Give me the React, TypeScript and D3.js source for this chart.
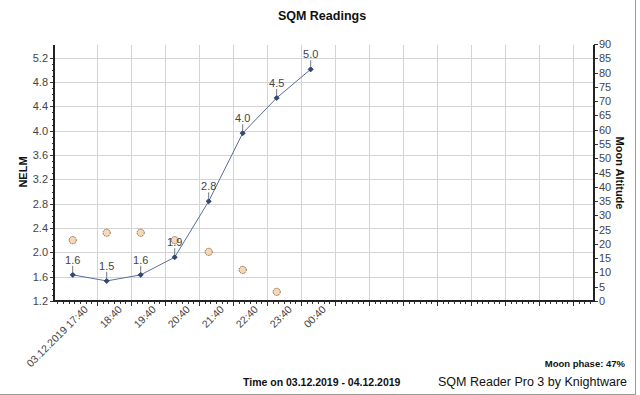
import { useEffect, useRef } from 'react';
import * as d3 from 'd3';

// readings (one per hour) and moon altitude at the same times
const readingTimes = [
  '2019-12-03T17:17', '2019-12-03T18:17', '2019-12-03T19:17', '2019-12-03T20:17',
  '2019-12-03T21:17', '2019-12-03T22:17', '2019-12-03T23:17', '2019-12-04T00:17',
];
const nelm = [1.63, 1.53, 1.63, 1.92, 2.84, 3.96, 4.54, 5.01];
const moonAlt = [21.3, 23.9, 23.9, 21.3, 17.2, 10.9, 3.2, null];

const timeDomain = ['2019-12-03T16:44', '2019-12-04T08:37'];
const labelledTicks = [
  '2019-12-03T17:40', '2019-12-03T18:40', '2019-12-03T19:40', '2019-12-03T20:40',
  '2019-12-03T21:40', '2019-12-03T22:40', '2019-12-03T23:40', '2019-12-04T00:40',
];
const nelmTicks = [1.2, 1.6, 2.0, 2.4, 2.8, 3.2, 3.6, 4.0, 4.4, 4.8, 5.2];
const moonTicks = d3.range(0, 91, 5);

const parse = d3.timeParse('%Y-%m-%dT%H:%M');

const App = () => {
  const svgRef = useRef(null);

  useEffect(() => {
    const W = 640, H = 395;
    const left = 54, right = 594, top = 45, bottom = 301;
    const font = '"Liberation Sans", Arial, sans-serif';
    const svg = d3.select(svgRef.current);
    svg.selectAll('*').remove();
    svg.attr('width', W).attr('height', H).style('font-family', font);

    svg.append('rect').attr('width', W).attr('height', H).attr('fill', '#fff');

    const x = d3.scaleTime()
      .domain(timeDomain.map(d => parse(d)))
      .range([left, right]);
    const y = d3.scaleLinear().domain([1.2, 5.41]).range([bottom, top]);
    const y2 = d3.scaleLinear().domain([0, 90]).range([bottom, top - 1]);

    const firstTick = parse(labelledTicks[0]);
    const hourTicks = d3.timeHour.every(1).range(firstTick, x.domain()[1])
      .map(d => new Date(d.getTime()));
    const minorTicks = d3.timeMinute.every(10).range(x.domain()[0], x.domain()[1]);

    // grid
    const grid = svg.append('g').attr('stroke', '#d4d4d4').attr('stroke-width', 1);
    grid.selectAll('line.v').data(hourTicks).enter().append('line')
      .attr('x1', d => Math.round(x(d)) + 0.5).attr('x2', d => Math.round(x(d)) + 0.5)
      .attr('y1', top).attr('y2', bottom);
    grid.selectAll('line.h').data(nelmTicks.slice(1)).enter().append('line')
      .attr('x1', left).attr('x2', right)
      .attr('y1', d => Math.round(y(d)) + 0.5).attr('y2', d => Math.round(y(d)) + 0.5);

    // bottom axis ticks
    const ax = svg.append('g').attr('stroke', '#333');
    ax.selectAll('line.mi').data(minorTicks).enter().append('line')
      .attr('x1', d => Math.round(x(d)) + 0.5).attr('x2', d => Math.round(x(d)) + 0.5)
      .attr('y1', bottom).attr('y2', bottom + 3);
    ax.selectAll('line.ma').data(hourTicks).enter().append('line')
      .attr('x1', d => Math.round(x(d)) + 0.5).attr('x2', d => Math.round(x(d)) + 0.5)
      .attr('y1', bottom).attr('y2', bottom + 5);

    const fmt = d3.timeFormat('%H:%M');
    svg.selectAll('text.xl').data(labelledTicks.map(d => parse(d))).enter().append('text')
      .attr('transform', d => `translate(${x(d) + 3},${bottom + 9}) rotate(-45)`)
      .attr('text-anchor', 'end')
      .attr('font-size', 10.5)
      .attr('fill', '#444')
      .text((d, i) => (i === 0 ? '03.12.2019 ' : '') + fmt(d));

    // left axis
    const minorY = d3.range(12, 53).map(v => v / 10);
    ax.selectAll('line.ly').data(minorY).enter().append('line')
      .attr('x1', left - 2).attr('x2', left)
      .attr('y1', d => Math.round(y(d)) + 0.5).attr('y2', d => Math.round(y(d)) + 0.5);
    ax.selectAll('line.lY').data(nelmTicks).enter().append('line')
      .attr('x1', left - 4).attr('x2', left)
      .attr('y1', d => Math.round(y(d)) + 0.5).attr('y2', d => Math.round(y(d)) + 0.5);
    svg.selectAll('text.yl').data(nelmTicks).enter().append('text')
      .attr('x', left - 6).attr('y', d => y(d) + 4)
      .attr('text-anchor', 'end').attr('font-size', 11).attr('fill', '#444')
      .text(d => d.toFixed(1));

    // right axis
    ax.selectAll('line.ry').data(moonTicks).enter().append('line')
      .attr('x1', right).attr('x2', right + 4)
      .attr('y1', d => Math.round(y2(d)) + 0.5).attr('y2', d => Math.round(y2(d)) + 0.5);
    svg.selectAll('text.yr').data(moonTicks).enter().append('text')
      .attr('x', right + 5).attr('y', d => y2(d) + 4)
      .attr('font-size', 11).attr('fill', '#444')
      .text(d => d);

    // axis lines
    const axLines = svg.append('g').attr('stroke', '#222').attr('stroke-width', 2);
    axLines.append('line').attr('x1', left).attr('x2', left).attr('y1', top).attr('y2', bottom + 1);
    axLines.append('line').attr('x1', left).attr('x2', right).attr('y1', bottom).attr('y2', bottom);
    axLines.append('line').attr('x1', right).attr('x2', right).attr('y1', top).attr('y2', bottom + 1);

    // NELM series
    const pts = readingTimes.map((t, i) => ({ t: parse(t), v: nelm[i], m: moonAlt[i] }));
    const line = d3.line().x(d => x(d.t)).y(d => y(d.v));
    svg.append('path').datum(pts).attr('d', line)
      .attr('fill', 'none').attr('stroke', '#5a6f9a').attr('stroke-width', 1);

    // moon altitude points
    svg.selectAll('circle.moon').data(pts.filter(d => d.m != null)).enter().append('circle')
      .attr('cx', d => x(d.t)).attr('cy', d => y2(d.m)).attr('r', 3.6)
      .attr('fill', '#f7d8b6').attr('stroke', '#7a5a3a').attr('stroke-width', 0.9)
      .attr('stroke-dasharray', '1.5,0.8');

    // data labels
    svg.selectAll('line.dl').data(pts).enter().append('line')
      .attr('x1', d => x(d.t)).attr('x2', d => x(d.t))
      .attr('y1', d => y(d.v) - 9).attr('y2', d => y(d.v) - 3)
      .attr('stroke', '#777').attr('stroke-width', 1);
    svg.selectAll('text.dl').data(pts).enter().append('text')
      .attr('x', d => x(d.t)).attr('y', d => y(d.v) - 11)
      .attr('text-anchor', 'middle').attr('font-size', 11).attr('fill', '#444')
      .text(d => d.v.toFixed(1));

    // diamonds
    svg.selectAll('path.dm').data(pts).enter().append('path')
      .attr('d', d3.symbol(d3.symbolSquare, 14))
      .attr('transform', d => `translate(${x(d.t)},${y(d.v)}) rotate(45)`)
      .attr('fill', '#2f4a78').attr('stroke', '#1d3158').attr('stroke-width', 0.6);

    // titles
    svg.append('text').attr('x', 322).attr('y', 20).attr('text-anchor', 'middle')
      .attr('font-size', 12.5).attr('font-weight', 'bold').attr('fill', '#111')
      .text('SQM Readings');
    svg.append('text').attr('transform', 'translate(27,172) rotate(-90)')
      .attr('text-anchor', 'middle').attr('font-size', 11).attr('font-weight', 'bold')
      .attr('fill', '#111').text('NELM');
    svg.append('text').attr('transform', 'translate(616,173) rotate(90)')
      .attr('text-anchor', 'middle').attr('font-size', 11).attr('font-weight', 'bold')
      .attr('fill', '#111').text('Moon Altitude');
    svg.append('text').attr('x', 625).attr('y', 367).attr('text-anchor', 'end')
      .attr('font-size', 9.5).attr('font-weight', 'bold').attr('fill', '#111')
      .text('Moon phase: 47%');
    svg.append('text').attr('x', 243).attr('y', 386)
      .attr('font-size', 10.5).attr('font-weight', 'bold').attr('fill', '#111')
      .text('Time on 03.12.2019 - 04.12.2019');
    svg.append('text').attr('x', 627).attr('y', 386).attr('text-anchor', 'end')
      .attr('font-size', 12.5).attr('fill', '#111')
      .text('SQM Reader Pro 3 by Knightware');

    // outer frame (right and bottom edges)
    svg.append('path').attr('d', `M635.5,0 V394.5 H0`)
      .attr('fill', 'none').attr('stroke', '#999').attr('stroke-width', 1);
  }, []);

  return (
    <div style={{ position: 'absolute', left: 0, top: 0 }}>
      <svg ref={svgRef} style={{ display: 'block' }}></svg>
    </div>
  );
};

export default App;
